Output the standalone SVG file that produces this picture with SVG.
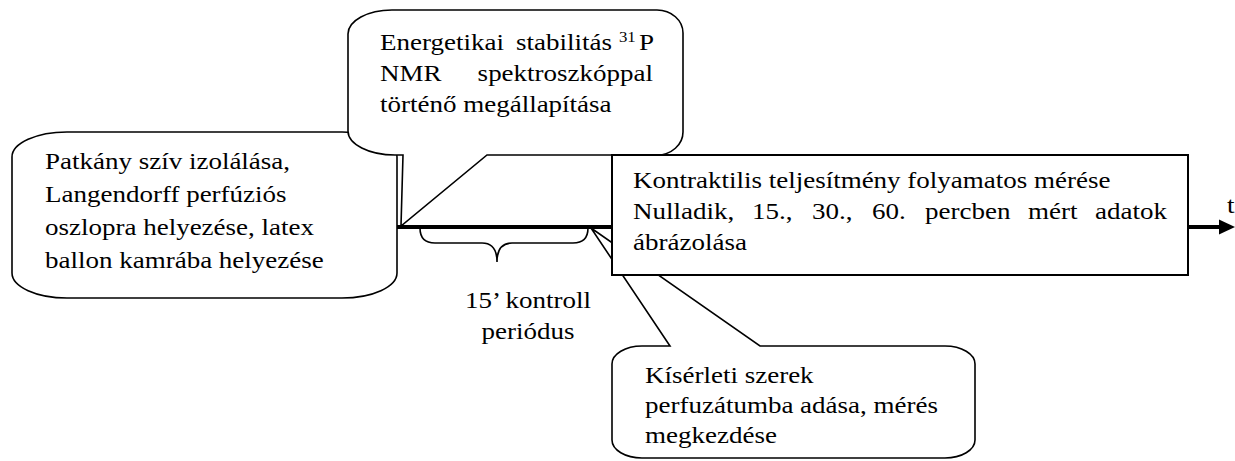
<svg xmlns="http://www.w3.org/2000/svg" width="1235" height="461" viewBox="0 0 1235 461">
<style>
.shape{fill:#fff;stroke:#000;stroke-width:1.6;stroke-linejoin:miter}
.box{fill:#fff;stroke:#000;stroke-width:2}
.tx{font-family:"Liberation Serif","Times New Roman",serif;font-size:22.5px;fill:#000}
.sup{font-size:14px}
</style>
<g id="connectors">
<line x1="397" y1="227" x2="1222" y2="227" stroke="#000" stroke-width="4"/>
<polygon points="1219,219.5 1235,227 1219,234.5" fill="#000"/>
<path d="M420,228 Q420,243 435,243 L482,243 Q497,243 497,262 Q497,243 512,243 L573,243 Q588,243 588,228" fill="none" stroke="#000" stroke-width="1.6"/>
</g>
<g id="axis-label" class="tx" transform="scale(1.2,1)">
<text x="1022.5" y="213">t</text>
</g>
<g id="control-period" class="tx" transform="scale(1.2,1)">
<text x="440" y="308" text-anchor="middle">15’ kontroll</text>
<text x="440" y="339" text-anchor="middle">periódus</text>
</g>
<g id="node-isolation">
<rect class="shape" x="12" y="132" width="385" height="166" rx="55" ry="25"/>
<g class="tx" transform="scale(1.2,1)">
<text x="37.5" y="169">Patkány szív izolálása,</text>
<text x="37.5" y="202">Langendorff perfúziós</text>
<text x="37.5" y="235">oszlopra helyezése, latex</text>
<text x="37.5" y="268">ballon kamrába helyezése</text>
</g>
</g>
<g id="node-drugs">
<path class="shape" d="M642,346 L670,346 L591,228 L760,346 L945,346 A30 18 0 0 1 975 364 L975 440 A30 18 0 0 1 945 458 L642 458 A30 18 0 0 1 612 440 L612 364 A30 18 0 0 1 642 346 Z"/>
<g class="tx" transform="scale(1.2,1)">
<text x="537.5" y="383">Kísérleti szerek</text>
<text x="537.5" y="413">perfuzátumba adása, mérés</text>
<text x="537.5" y="443">megkezdése</text>
</g>
</g>
<g id="node-nmr">
<path class="shape" d="M395,155 L403,155 L401,226 L487,155 L657,155 A26 23 0 0 0 683 132 L683 33 A26 23 0 0 0 657 10 L392 10 A44 24 0 0 0 348 34 L348 131 A47 24 0 0 0 395 155 Z"/>
<g class="tx" transform="scale(1.2,1)">
<text x="316.67" y="50">Energetikai</text>
<text x="430" y="50">stabilitás</text>
<text x="515.8" y="42" class="sup">31</text>
<text x="545" y="50" text-anchor="end">P</text>
<text x="316.67" y="81">NMR</text>
<text x="544.2" y="81" text-anchor="end">spektroszkóppal</text>
<text x="316.67" y="112">történő megállapítása</text>
</g>
</g>
<g id="node-contractility">
<rect class="box" x="612" y="155" width="576" height="120"/>
<g class="tx" transform="scale(1.2,1)">
<text x="527.5" y="188">Kontraktilis teljesítmény folyamatos mérése</text>
<text x="527.5" y="219">Nulladik,</text>
<text x="626.67" y="219">15.,</text>
<text x="676.67" y="219">30.,</text>
<text x="726.67" y="219">60.</text>
<text x="770.83" y="219">percben</text>
<text x="856.67" y="219">mért</text>
<text x="972.5" y="219" text-anchor="end">adatok</text>
<text x="527.5" y="250">ábrázolása</text>
</g>
</g>
</svg>
